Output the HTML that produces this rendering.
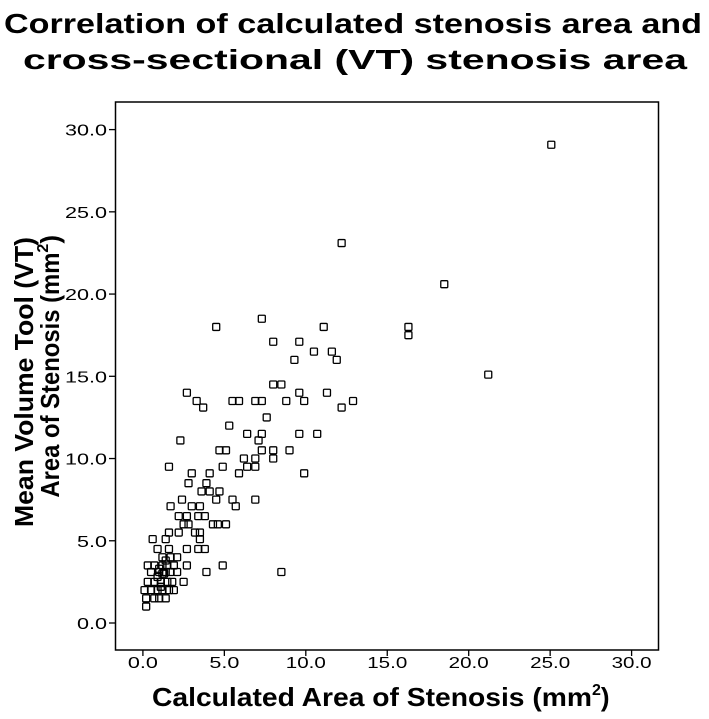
<!DOCTYPE html>
<html><head><meta charset="utf-8"><style>
body{margin:0;background:#fff;}
svg{display:block;font-family:"Liberation Sans",Arial,sans-serif;}
</style></head><body>
<svg id="chart" width="709" height="719" viewBox="0 0 709 719">
<text x="353" y="33" text-anchor="middle" font-size="28" font-weight="bold" textLength="698" lengthAdjust="spacingAndGlyphs">Correlation of calculated stenosis area and</text>
<text x="355" y="69" text-anchor="middle" font-size="28" font-weight="bold" textLength="664" lengthAdjust="spacingAndGlyphs">cross-sectional (VT) stenosis area</text>
<rect x="115.5" y="102" width="543" height="548" fill="none" stroke="#000" stroke-width="1.5"/>
<g id="axes"></g>
<g id="points"></g>
<text transform="translate(33,382) rotate(-90)" text-anchor="middle" font-size="26" font-weight="bold" textLength="290" lengthAdjust="spacingAndGlyphs">Mean Volume Tool (VT)</text>
<text transform="translate(59,235) rotate(-90)" text-anchor="end" font-size="26" font-weight="bold"><tspan textLength="245" lengthAdjust="spacingAndGlyphs">Area of Stenosis (mm</tspan><tspan font-size="16" dy="-11">2</tspan><tspan dy="11">)</tspan></text>
<text x="152" y="706" font-size="26" font-weight="bold"><tspan textLength="440" lengthAdjust="spacingAndGlyphs">Calculated Area of Stenosis (mm</tspan><tspan font-size="16" dy="-11">2</tspan><tspan dy="11">)</tspan></text>
</svg>
<script>
const xTicks=[0,5,10,15,20,25,30];
const yTicks=[0,5,10,15,20,25,30];
const xVals=[25.07,12.2,18.5,21.2,16.3,16.3,4.5,7.3,11.1,8.0,9.6,10.5,11.6,11.9,9.3,8.0,8.5,9.6,11.3,2.7,3.3,3.7,5.5,5.9,6.9,7.3,8.8,9.9,12.9,12.2,7.6,5.3,6.4,7.3,9.6,10.7,7.1,2.3,4.7,5.1,7.3,8.0,9.0,6.2,6.9,8.0,1.6,4.9,6.4,6.9,5.9,9.9,3.0,4.1,2.8,3.9,3.6,4.1,4.7,2.4,4.5,5.5,6.9,1.7,3.0,3.5,5.7,2.2,2.7,3.4,3.8,2.5,2.8,4.3,4.6,5.1,1.6,2.2,3.2,3.5,0.6,1.4,3.5,0.9,1.6,2.7,3.4,3.8,1.2,1.7,2.1,1.4,0.3,0.7,1.2,1.5,1.9,2.7,4.9,1.0,0.5,1.0,1.4,1.7,2.1,3.9,8.5,1.2,0.3,0.7,1.1,1.5,1.8,2.5,0.1,0.5,0.9,1.2,1.6,1.9,0.2,0.7,1.0,1.4,0.2,1.3,0.9,1.1];
const yVals=[29.08,23.1,20.6,15.1,18.0,17.5,18.0,18.5,18.0,17.1,17.1,16.5,16.5,16.0,16.0,14.5,14.5,14.0,14.0,14.0,13.5,13.1,13.5,13.5,13.5,13.5,13.5,13.5,13.5,13.1,12.5,12.0,11.5,11.5,11.5,11.5,11.1,11.1,10.5,10.5,10.5,10.5,10.5,10.0,10.0,10.0,9.5,9.5,9.5,9.5,9.1,9.1,9.1,9.1,8.5,8.5,8.0,8.0,8.0,7.5,7.5,7.5,7.5,7.1,7.1,7.1,7.1,6.5,6.5,6.5,6.5,6.0,6.0,6.0,6.0,6.0,5.5,5.5,5.5,5.5,5.1,5.1,5.1,4.5,4.5,4.5,4.5,4.5,4.0,4.0,4.0,3.8,3.5,3.5,3.5,3.5,3.5,3.5,3.5,3.3,3.1,3.1,3.1,3.1,3.1,3.1,3.1,3.0,2.5,2.5,2.5,2.5,2.5,2.5,2.0,2.0,2.0,2.0,2.0,2.0,1.5,1.5,1.5,1.5,1.0,3.0,2.8,2.2];
const NS="http://www.w3.org/2000/svg";
function sx(v){return 142.9+v*(631.6-142.9)/30;}
function sy(v){return 623-v*(623-129.6)/30;}
const axes=document.getElementById('axes');
function mk(tag,attrs,parent){const e=document.createElementNS(NS,tag);for(const k in attrs)e.setAttribute(k,attrs[k]);parent.appendChild(e);return e;}
xTicks.forEach(t=>{
  const l=mk('line',{x1:sx(t),x2:sx(t),y1:650,y2:656,stroke:'#000','stroke-width':1.3},axes);
  
  
  const tx=mk('text',{x:sx(t),y:668,'text-anchor':'middle','font-size':16,textLength:(t>=10?40:30),lengthAdjust:'spacingAndGlyphs'},axes);
  tx.textContent=t.toFixed(1);
  
  
});
yTicks.forEach(t=>{
  const l=mk('line',{x1:109,x2:115.5,y1:sy(t),y2:sy(t),stroke:'#000','stroke-width':1.3},axes);
  
  
  const tx=mk('text',{x:107,y:sy(t)+6,'text-anchor':'end','font-size':16,textLength:(t>=10?42:30),lengthAdjust:'spacingAndGlyphs'},axes);
  tx.textContent=t.toFixed(1);
  
  
});
const pts=document.getElementById('points');
xVals.forEach((x,i)=>{
  const r=mk('rect',{x:sx(x)-3.5,y:sy(yVals[i])-3.5,width:7,height:7,rx:1,fill:'none',stroke:'#000','stroke-width':1.3},pts);
  
  
});
</script>
</body></html>
